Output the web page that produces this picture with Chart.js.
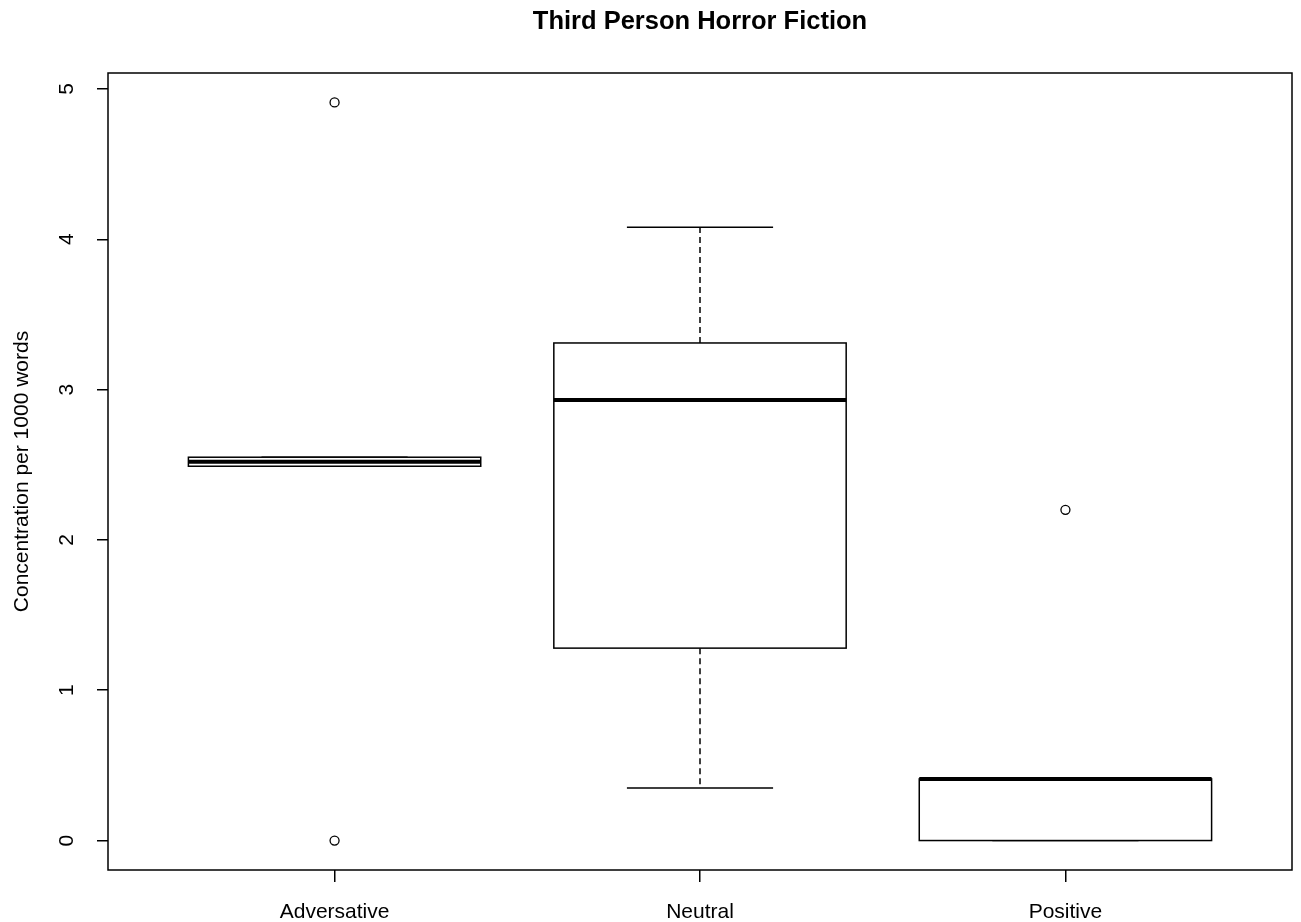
<!DOCTYPE html>
<html>
<head>
  <title>Third Person Horror Fiction</title>
  <script src="https://cdn.jsdelivr.net/npm/chart.js"></script>
  <style>
    body {
      margin: 0;
      padding: 0;
      background: #ffffff;
    }
    #wrap {
      width: 1301px;
      height: 922px;
    }
  </style>
  <script>
    // data
    const categories = ['Adversative', 'Neutral', 'Positive'];
    const lowerWhisker = [2.49, 0.35, 0];
    const q1 = [2.49, 1.28, 0];
    const median = [2.52, 2.93, 0.41];
    const q3 = [2.55, 3.31, 0.41];
    const upperWhisker = [2.55, 4.08, 0.41];
    const outlierGroup = [0, 0, 2];
    const outlierValue = [4.91, 0, 2.2];
    const yTicks = [0, 1, 2, 3, 4, 5];
    const chartTitle = 'Third Person Horror Fiction';

    const fontFamily = 'Liberation Sans, Arial, sans-serif';
    const labelFont = { family: fontFamily, size: 21 };

    // boxes, whiskers and staples drawn through the chart scales
    const boxPlugin = {
      id: 'boxes',
      beforeDatasetsDraw(chart) {
        const ctx = chart.ctx;
        const x = chart.scales.x;
        const y = chart.scales.y;
        ctx.save();
        ctx.strokeStyle = '#000';
        categories.forEach((c, i) => {
          const pos = i + 1;
          const left = x.getPixelForValue(pos - 0.4);
          const right = x.getPixelForValue(pos + 0.4);
          const capL = x.getPixelForValue(pos - 0.2);
          const capR = x.getPixelForValue(pos + 0.2);
          const mid = x.getPixelForValue(pos);
          const yq1 = y.getPixelForValue(q1[i]);
          const yq3 = y.getPixelForValue(q3[i]);
          const ylo = y.getPixelForValue(lowerWhisker[i]);
          const yhi = y.getPixelForValue(upperWhisker[i]);
          const ymed = y.getPixelForValue(median[i]);

          // dashed whiskers
          ctx.lineWidth = 1.5;
          ctx.setLineDash([6, 4]);
          ctx.beginPath();
          ctx.moveTo(mid, yq3); ctx.lineTo(mid, yhi);
          ctx.moveTo(mid, yq1); ctx.lineTo(mid, ylo);
          ctx.stroke();
          ctx.setLineDash([]);

          // staples
          ctx.beginPath();
          ctx.moveTo(capL, yhi); ctx.lineTo(capR, yhi);
          ctx.moveTo(capL, ylo); ctx.lineTo(capR, ylo);
          ctx.stroke();

          // box
          ctx.fillStyle = '#fff';
          ctx.fillRect(left, yq3, right - left, yq1 - yq3);
          ctx.strokeRect(left, yq3, right - left, yq1 - yq3);

          // median
          ctx.lineWidth = 4;
          ctx.beginPath();
          ctx.moveTo(left, ymed); ctx.lineTo(right, ymed);
          ctx.stroke();
        });
        ctx.restore();
      },
      afterDraw(chart) {
        const ctx = chart.ctx;
        const a = chart.chartArea;
        const y = chart.scales.y;
        ctx.save();
        // frame around the plot
        ctx.strokeStyle = '#000';
        ctx.lineWidth = 1.5;
        ctx.strokeRect(a.left, a.top, a.right - a.left, a.bottom - a.top);
        ctx.fillStyle = '#000';
        // title centred over the plot region, like R does
        ctx.font = 'bold 25.5px ' + fontFamily;
        ctx.textAlign = 'center';
        ctx.textBaseline = 'middle';
        ctx.fillText(chartTitle, (a.left + a.right) / 2, 22);
        // rotated y tick labels, R style
        ctx.font = labelFont.size + 'px ' + labelFont.family;
        ctx.textBaseline = 'alphabetic';
        y.ticks.forEach(t => {
          ctx.save();
          ctx.translate(73, y.getPixelForValue(t.value));
          ctx.rotate(-Math.PI / 2);
          ctx.fillText(String(t.value), 0, 0);
          ctx.restore();
        });
        ctx.restore();
      }
    };

    window.onload = () => {
      const ctx = document.getElementById('chart').getContext('2d');
      new Chart(ctx, {
        type: 'scatter',
        data: {
          datasets: [{
            label: 'Outliers',
            data: outlierGroup.map((g, i) => ({ x: g + 1, y: outlierValue[i] })),
            pointStyle: 'circle',
            pointRadius: 4.5,
            pointHoverRadius: 4.5,
            borderColor: '#000',
            borderWidth: 1.3,
            backgroundColor: 'rgba(0,0,0,0)'
          }]
        },
        options: {
          responsive: false,
          animation: false,
          layout: {
            padding: { top: 73, right: 9, bottom: 0, left: 0 }
          },
          scales: {
            x: {
              type: 'linear',
              min: 0.38,
              max: 3.62,
              afterBuildTicks: (s) => { s.ticks = categories.map((c, i) => ({ value: i + 1 })); },
              afterFit: (s) => { s.height = 52; },
              border: { display: false },
              grid: {
                drawOnChartArea: false,
                drawTicks: true,
                tickLength: 12,
                color: '#000',
                lineWidth: 1.5
              },
              ticks: {
                color: '#000',
                font: labelFont,
                padding: 18,
                maxRotation: 0,
                autoSkip: false,
                callback: (v) => categories[Math.round(v) - 1] || ''
              }
            },
            y: {
              min: -0.196,
              max: 5.106,
              afterBuildTicks: (s) => { s.ticks = yTicks.map(v => ({ value: v })); },
              afterFit: (s) => { s.width = 108; },
              border: { display: false },
              grid: {
                drawOnChartArea: false,
                drawTicks: true,
                tickLength: 11,
                color: '#000',
                lineWidth: 1.5
              },
              ticks: { display: false },
              title: {
                display: true,
                text: 'Concentration per 1000 words',
                color: '#000',
                font: labelFont,
                padding: { top: 10, bottom: 0 }
              }
            }
          },
          plugins: {
            legend: { display: false },
            tooltip: { enabled: false },
            title: { display: false }
          }
        },
        plugins: [boxPlugin]
      });
    };
  </script>
</head>
<body>
  <div id="wrap">
    <canvas id="chart" width="1301" height="922"></canvas>
  </div>
</body>
</html>
